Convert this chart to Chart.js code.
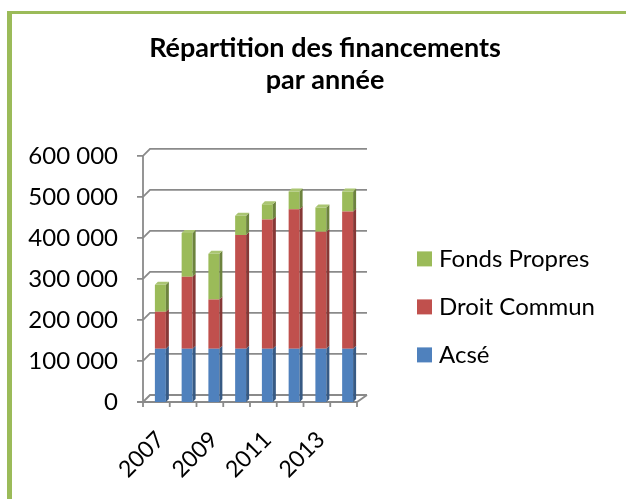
<!DOCTYPE html>
<html>
<head>
<meta charset="utf-8">
<script src="https://cdn.jsdelivr.net/npm/chart.js@4/dist/chart.umd.min.js"></script>
<style>
  html, body { margin: 0; padding: 0; background: #fff; }
  #wrap { position: relative; width: 626px; height: 499px; overflow: hidden; }
  #frame {
    position: absolute; left: 7px; top: 11px; width: 700px; height: 600px;
    border-left: 5px solid #9bbb59; border-top: 3px solid #9bbb59;
    pointer-events: none;
  }
  canvas { position: absolute; left: 0; top: 0; }
</style>
</head>
<body>
<div id="wrap">
  <canvas id="chart" width="626" height="499"></canvas>
  <div id="frame"></div>
</div>
<script>
const years = ['2007', '2008', '2009', '2010', '2011', '2012', '2013', '2014'];
const acse = [130000, 130000, 130000, 130000, 130000, 130000, 130000, 130000];
const droitCommun = [90000, 175000, 120000, 277000, 315000, 340000, 285000, 334000];
const fondsPropres = [66000, 107000, 111000, 47000, 37000, 43000, 59000, 49000];
const yTicks = [0, 100000, 200000, 300000, 400000, 500000, 600000];

const FONT = 'Lato, "Liberation Sans", sans-serif';
const DEPTH = 3;   // bar depth
const WALL = 7;    // back wall offset

function fmt(v) {
    return String(v).replace(/\B(?=(\d{3})+(?!\d))/g, ' ');
}

function shade(hex, f) {
    const n = parseInt(hex.slice(1), 16);
    const c = [(n >> 16) & 255, (n >> 8) & 255, n & 255].map(function (v) {
        return Math.max(0, Math.min(255, Math.round(f < 1 ? v * f : v + (255 - v) * (f - 1))));
    });
    return 'rgb(' + c.join(',') + ')';
}

// grid on the back wall + front axes (behind bars), bar sides + legend (after)
const wall3d = {
    id: 'wall3d',
    beforeDatasetsDraw(chart) {
        const { ctx, chartArea: a, scales } = chart;
        const ys = scales.y, xs = scales.x;
        const fx = a.left - 4;
        ctx.save();
        ctx.strokeStyle = '#8a8a8a';
        ctx.lineWidth = 1.8;
        ctx.beginPath();
        yTicks.forEach(function (v) {
            const y = ys.getPixelForValue(v);
            ctx.moveTo(fx - 6, y);
            ctx.lineTo(fx, y);
            ctx.lineTo(fx + WALL, y - WALL);
            ctx.lineTo(a.right + WALL - 1, y - WALL);
        });
        ctx.moveTo(fx, ys.getPixelForValue(600000));
        ctx.lineTo(fx, a.bottom);
        const half = (xs.getPixelForValue(1) - xs.getPixelForValue(0)) / 2;
        ctx.moveTo(fx, a.bottom);
        ctx.lineTo(a.right - 4, a.bottom);
        ctx.lineTo(a.right + WALL - 1, a.bottom - WALL);
        for (let i = 0; i <= years.length; i++) {
            const x = xs.getPixelForValue(i) - half - 4;
            ctx.moveTo(x, a.bottom);
            ctx.lineTo(x, a.bottom + 5);
        }
        ctx.stroke();
        ctx.restore();
    },
    afterDatasetsDraw(chart) {
        const ctx = chart.ctx;
        const n = chart.data.datasets.length;
        chart.data.datasets.forEach(function (ds, di) {
            const meta = chart.getDatasetMeta(di);
            meta.data.forEach(function (bar) {
                const p = bar.getProps(['x', 'y', 'base', 'width'], true);
                const r = p.x + p.width / 2, l = p.x - p.width / 2;
                ctx.fillStyle = shade(ds.backgroundColor, 0.7);
                ctx.beginPath();
                ctx.moveTo(r, p.y);
                ctx.lineTo(r + DEPTH, p.y - DEPTH);
                ctx.lineTo(r + DEPTH, p.base - DEPTH);
                ctx.lineTo(r, p.base);
                ctx.closePath();
                ctx.fill();
                if (di === n - 1) {
                    ctx.fillStyle = shade(ds.backgroundColor, 1.15);
                    ctx.beginPath();
                    ctx.moveTo(l, p.y);
                    ctx.lineTo(l + DEPTH, p.y - DEPTH);
                    ctx.lineTo(r + DEPTH, p.y - DEPTH);
                    ctx.lineTo(r, p.y);
                    ctx.closePath();
                    ctx.fill();
                }
            });
        });
    },
    afterDraw(chart) {
        // legend, reversed order, in the space kept free by the hidden right axis
        const { ctx, chartArea: a } = chart;
        const items = chart.data.datasets.slice().reverse();
        const x0 = a.right + 56;
        const cy = (a.top + a.bottom) / 2 + 28;
        ctx.save();
        ctx.font = '24px ' + FONT;
        ctx.textBaseline = 'middle';
        ctx.textAlign = 'left';
        items.forEach(function (ds, i) {
            const y = cy + (i - (items.length - 1) / 2) * 48;
            ctx.fillStyle = ds.backgroundColor;
            ctx.fillRect(x0, y - 7.5, 15, 15);
            ctx.fillStyle = '#000';
            ctx.fillText(ds.label, x0 + 22, y);
        });
        ctx.restore();
    }
};

const canvas = document.getElementById('chart');
canvas.getContext('2d').textRendering = 'optimizeSpeed';

new Chart(canvas, {
    type: 'bar',
    data: {
        labels: years,
        datasets: [
            { label: 'Acsé', data: acse, backgroundColor: '#4f81bd' },
            { label: 'Droit Commun', data: droitCommun, backgroundColor: '#c0504d' },
            { label: 'Fonds Propres', data: fondsPropres, backgroundColor: '#9bbb59' },
        ],
    },
    options: {
        responsive: false,
        animation: false,
        barPercentage: 0.82,
        categoryPercentage: 0.5,
        layout: { padding: { left: 24, right: 0, top: 0, bottom: 0 } },
        plugins: {
            title: {
                display: true,
                text: ['Répartition des financements', 'par année'],
                color: '#000',
                font: { family: FONT, size: 27, weight: 'bold', lineHeight: 1.2 },
                padding: { top: 32, bottom: 59 },
            },
            legend: { display: false },
            tooltip: { enabled: false },
        },
        scales: {
            x: {
                stacked: true,
                grid: { display: false, drawTicks: false },
                border: { display: false },
                afterFit: function (s) { s.height = 97; },
                ticks: {
                    color: '#000',
                    autoSkip: false,
                    minRotation: 45,
                    maxRotation: 45,
                    padding: 24,
                    font: { family: FONT, size: 23 },
                    callback: function (v, i) { return i % 2 === 0 ? years[i] : ''; },
                },
            },
            y: {
                stacked: true,
                min: 0,
                max: 600000,
                grid: { display: false, drawTicks: false },
                border: { display: false },
                afterFit: function (s) { s.width = 123; },
                ticks: {
                    color: '#000',
                    stepSize: 100000,
                    padding: 29,
                    font: { family: FONT, size: 24 },
                    callback: function (v) { return fmt(v); },
                },
            },
            legendSpace: {
                position: 'right',
                display: true,
                grid: { display: false, drawTicks: false },
                border: { display: false },
                ticks: { display: false },
                afterFit: function (s) { s.width = 265; },
            },
        },
    },
    plugins: [wall3d],
});
</script>
</body>
</html>
